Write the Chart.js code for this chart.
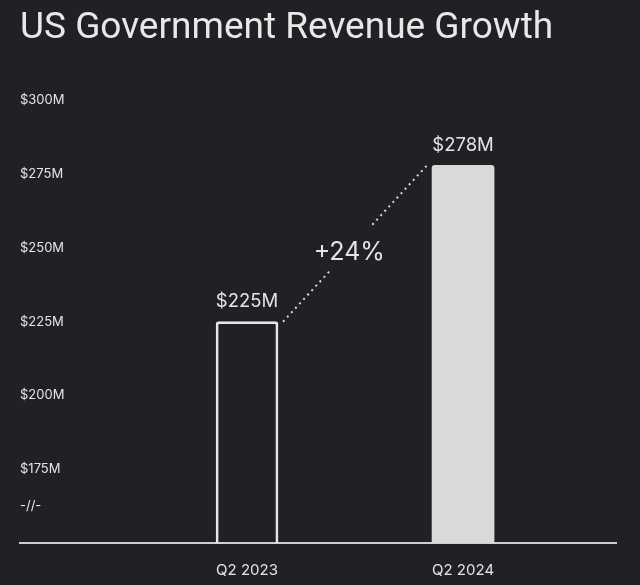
<!DOCTYPE html>
<html>
<head>
<meta charset="utf-8">
<script src="https://cdn.jsdelivr.net/npm/chart.js@4"></script>
<style>
  html, body { margin: 0; padding: 0; background: #202125; }
  #wrap { width: 640px; height: 585px; }
</style>
</head>
<body>
<div id="wrap"><canvas id="revenueChart"></canvas></div>
<script>
const quarters = ["Q2 2023", "Q2 2024"];
const revenue = [225, 278];
const yTicks = [162.5, 175, 200, 225, 250, 275, 300];
const axisBreak = 162.5;

const textColor = "#e4e4e4";
const fontFamily = "Inter, 'Noto Sans', sans-serif";

// value labels on top of the bars + the dotted growth line
const growthPlugin = {
  id: "growth",
  afterDatasetsDraw(chart) {
    const ctx = chart.ctx;
    const bars = chart.getDatasetMeta(0).data;
    ctx.save();
    ctx.fillStyle = textColor;
    ctx.textAlign = "center";
    ctx.textBaseline = "middle";
    ctx.font = "18.5px " + fontFamily;
    bars.forEach((bar, i) => {
      ctx.fillText("$" + revenue[i] + "M", bar.x, bar.y - 20);
    });

    const a = bars[0], b = bars[1];
    const x0 = a.x + a.width / 2 + 5, y0 = a.y;
    const x1 = b.x - b.width / 2 - 5, y1 = b.y;
    const at = (t) => [x0 + (x1 - x0) * t, y0 + (y1 - y0) * t];
    ctx.strokeStyle = "#d8d8d8";
    ctx.lineWidth = 2;
    ctx.setLineDash([2, 4]);
    [[0, 0.33], [0.62, 1]].forEach(([s, e]) => {
      const p = at(s), q = at(e);
      ctx.beginPath();
      ctx.moveTo(p[0], p[1]);
      ctx.lineTo(q[0], q[1]);
      ctx.stroke();
    });
    ctx.setLineDash([]);

    const pct = Math.round((revenue[1] - revenue[0]) / revenue[0] * 100);
    const m = at(0.46);
    ctx.font = "25px " + fontFamily;
    ctx.fillText("+" + pct + "%", m[0], m[1] + 3);
    ctx.restore();
  }
};

new Chart(document.getElementById("revenueChart"), {
  type: "bar",
  data: {
    datasets: [{
      data: revenue.map((v, i) => ({ x: i, y: v })),
      backgroundColor: ["rgba(0,0,0,0)", "#d9d9d9"],
      borderColor: ["#e6e6e6", "#d9d9d9"],
      borderWidth: [2, 0],
      borderRadius: 3,
      barThickness: 62
    }]
  },
  options: {
    responsive: true,
    maintainAspectRatio: false,
    animation: false,
    layout: { padding: { left: 20, right: 24, top: 0, bottom: 6 } },
    plugins: {
      legend: { display: false },
      tooltip: { enabled: false },
      title: {
        display: true,
        text: "US Government Revenue Growth",
        align: "start",
        color: "#e8e8e8",
        font: { family: "Roboto, " + fontFamily, size: 37, weight: "normal" },
        padding: { top: 7, bottom: 49 }
      }
    },
    scales: {
      x: {
        type: "linear",
        offset: false,
        min: -1.051,
        max: 1.708,
        grid: { display: false, drawTicks: false },
        border: { display: true, color: "#d0d0d0", width: 2 },
        afterBuildTicks: (scale) => {
          scale.ticks = quarters.map((q, i) => ({ value: i }));
        },
        afterFit: (scale) => { scale.height = 36; },
        ticks: {
          color: textColor,
          padding: 18,
          font: { family: fontFamily, size: 15 },
          callback: (v) => quarters[v]
        }
      },
      y: {
        min: 150,
        max: 300,
        grid: { display: false, drawTicks: false },
        border: { display: false },
        afterBuildTicks: (scale) => {
          scale.ticks = yTicks.map((v) => ({ value: v }));
        },
        ticks: {
          mirror: true,
          padding: 0,
          color: textColor,
          font: { family: fontFamily, size: 13 },
          callback: (v) => (v === axisBreak ? "-//-" : "$" + v + "M")
        }
      }
    }
  },
  plugins: [growthPlugin]
});
</script>
</body>
</html>
